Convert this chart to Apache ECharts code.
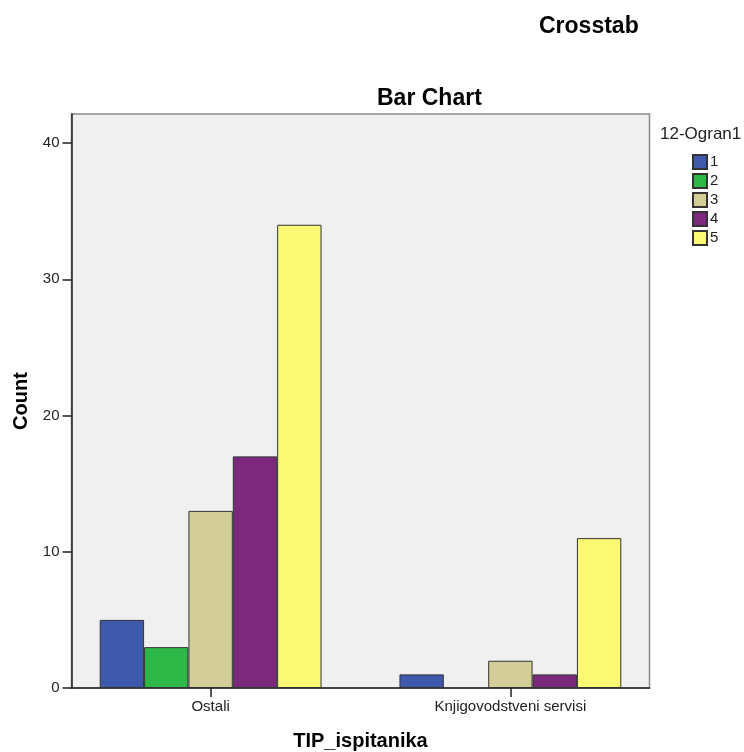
<!DOCTYPE html>
<html>
<head>
<meta charset="utf-8">
<style>html,body{margin:0;padding:0;background:#fff}#c{width:744px;height:752px}</style>
<script src="https://cdn.jsdelivr.net/npm/echarts@6/dist/echarts.min.js"></script>
</head>
<body>
<div id="c"></div>
<script>
var categories = ['Ostali', 'Knjigovodstveni servisi'];
var seriesNames = ['1', '2', '3', '4', '5'];
var values1 = [5, 1];
var values2 = [3, null];
var values3 = [13, 2];
var values4 = [17, 1];
var values5 = [34, 11];
var yTicks = [0, 10, 20, 30, 40];
var colors = ['#3e58ac', '#2eb848', '#d3ce97', '#7c287d', '#fbf873'];

var FONT = 'Liberation Sans, Arial, sans-serif';
var chart = echarts.init(document.getElementById('c'));
var allValues = [values1, values2, values3, values4, values5];
var yMax = 42.13;

var series = seriesNames.map(function (n, i) {
  return {
    name: n, type: 'bar', xAxisIndex: 0, yAxisIndex: 0,
    data: allValues[i], barGap: '0%', barCategoryGap: '26%',
    itemStyle: { color: colors[i], borderColor: '#333', borderWidth: 1 },
    emphasis: { disabled: true }, z: 3
  };
});

chart.setOption({
  animation: false,
  color: colors,
  graphic: [
    { type: 'text', left: 539, top: 15, style: { text: 'Crosstab', font: 'bold 23px ' + FONT, fill: '#000' } },
    { type: 'text', left: 377, top: 87, style: { text: 'Bar Chart', font: 'bold 23px ' + FONT, fill: '#000' } },
    { type: 'text', left: 660, top: 126, style: { text: '12-Ogran1', font: '17px ' + FONT, fill: '#222' } }
  ],
  legend: {
    orient: 'vertical', left: 687, top: 149,
    itemWidth: 14, itemHeight: 14, itemGap: 3,
    icon: 'rect',
    data: seriesNames,
    textStyle: { fontFamily: FONT, fontSize: 15, color: '#222', padding: [0, 0, 0, -2] },
    selectedMode: false
  },
  grid: [
    { left: 60.75, right: 83.75, top: 114, bottom: 64, show: false, outerBoundsMode: 'none', containLabel: false },
    { left: 71.5, right: 94.5, top: 114, bottom: 64, show: true, backgroundColor: '#f0f0f0', borderColor: '#8a8a8a', borderWidth: 1.5, z: 0, outerBoundsMode: 'none', containLabel: false }
  ],
  xAxis: [
    {
      type: 'category', gridIndex: 0, data: categories,
      axisLine: { show: false },
      axisTick: { show: true, alignWithLabel: true, length: 9, lineStyle: { color: '#222', width: 1.5 } },
      axisLabel: { fontFamily: FONT, fontSize: 15, color: '#222', margin: 11 },
      name: 'TIP_ispitanika', nameLocation: 'middle', nameGap: 43,
      nameTextStyle: { fontFamily: FONT, fontSize: 20, fontWeight: 'bold', color: '#000' }
    },
    {
      type: 'value', gridIndex: 1, min: 0, max: 1,
      axisLine: { show: true, lineStyle: { color: '#222', width: 1.5 } },
      axisTick: { show: false }, axisLabel: { show: false }, splitLine: { show: false }
    }
  ],
  yAxis: [
    { type: 'value', gridIndex: 0, min: 0, max: yMax, show: false, splitLine: { show: false } },
    {
      type: 'value', gridIndex: 1, min: 0, max: yMax,
      axisLine: { show: true, lineStyle: { color: '#222', width: 1.5 } },
      axisTick: { show: true, length: 9, customValues: yTicks, lineStyle: { color: '#222', width: 1.5 } },
      axisLabel: { fontFamily: FONT, fontSize: 15, color: '#222', margin: 12, customValues: yTicks },
      splitLine: { show: false },
      name: 'Count', nameLocation: 'middle', nameGap: 40,
      nameTextStyle: { fontFamily: FONT, fontSize: 20, fontWeight: 'bold', color: '#000' }
    }
  ],
  series: series
});
</script>
</body>
</html>
